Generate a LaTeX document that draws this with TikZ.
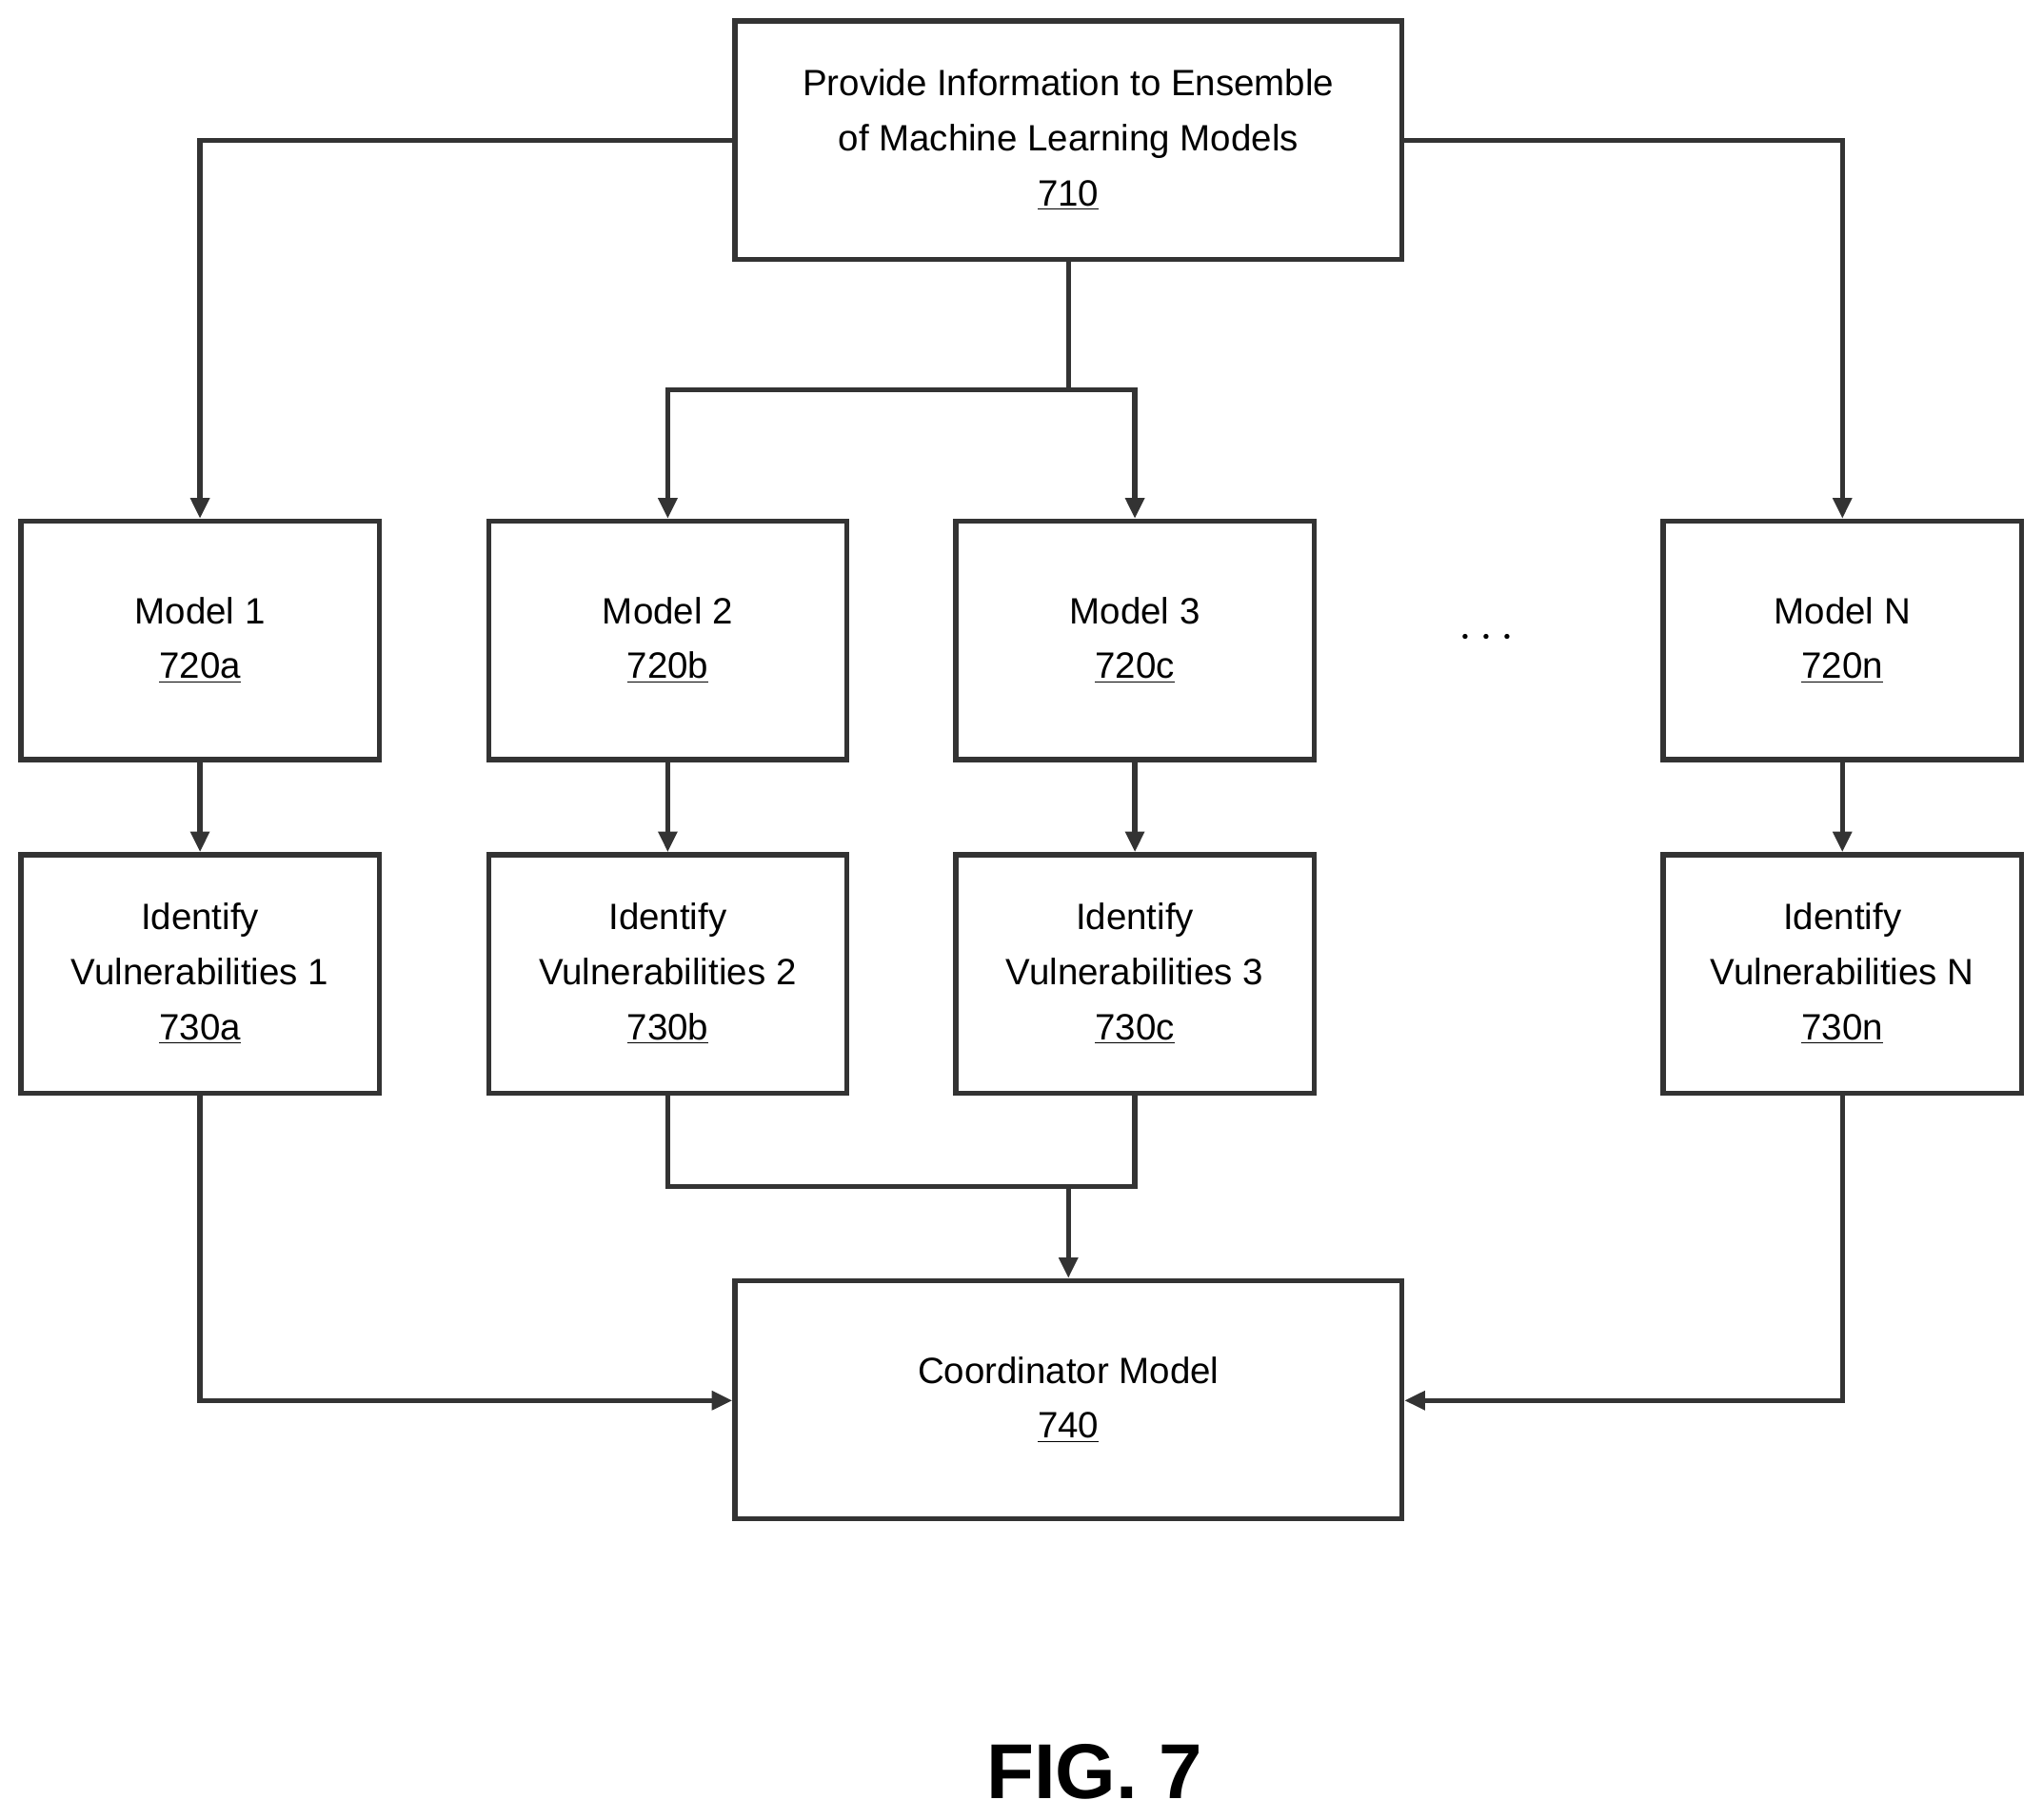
\documentclass[tikz,border=0pt]{standalone}
\usepackage{fontspec}
\setmainfont{Liberation Sans}
\usetikzlibrary{arrows.meta}
\begin{document}
\begin{tikzpicture}[x=0.02cm,y=-0.02cm,
  box/.style={draw=black!80,line width=2.2pt,minimum width=5.5cm,minimum height=3.66cm,align=center,font=\fontsize{16}{24}\selectfont,inner sep=0pt},
  wide/.style={box,minimum width=10.24cm},
  arr/.style={draw=black!80,line width=2.2pt,-{Triangle[length=9pt,width=8pt]}},
  ln/.style={draw=black!80,line width=2.2pt}]
\useasboundingbox (0,0) rectangle (1568,1397);
\node[wide] (p) at (820,107.5) {Provide Information to Ensemble\\of Machine Learning Models\\\underline{710}};
\node[box] (m1) at (153.5,491.5) {Model 1\\\underline{720a}};
\node[box] (m2) at (512.5,491.5) {Model 2\\\underline{720b}};
\node[box] (m3) at (871,491.5) {Model 3\\\underline{720c}};
\node[box] (mn) at (1414,491.5) {Model N\\\underline{720n}};
\node[box] (v1) at (153.5,747.5) {Identify\\Vulnerabilities 1\\\underline{730a}};
\node[box] (v2) at (512.5,747.5) {Identify\\Vulnerabilities 2\\\underline{730b}};
\node[box] (v3) at (871,747.5) {Identify\\Vulnerabilities 3\\\underline{730c}};
\node[box] (vn) at (1414,747.5) {Identify\\Vulnerabilities N\\\underline{730n}};
\node[wide] (c) at (820,1074.5) {Coordinator Model\\\underline{740}};
\node[font=\fontsize{20}{20}\selectfont] (dots) at (1141,490) {$\cdots$};
\node[font=\bfseries\fontsize{34}{34}\selectfont] (fig) at (840,1360) {FIG. 7};
\coordinate (t) at (820,299);
\coordinate (b) at (820,911);
\draw[arr] (p.west |- 0,108) -| (m1.north);
\draw[arr] (p.east |- 0,108) -| (mn.north);
\draw[ln] (p.south) -- (t);
\draw[arr] (t) -| (m2.north);
\draw[arr] (t) -| (m3.north);
\draw[arr] (m1) -- (v1);
\draw[arr] (m2) -- (v2);
\draw[arr] (m3) -- (v3);
\draw[arr] (mn) -- (vn);
\draw[ln] (v2.south) |- (b) -| (v3.south);
\draw[arr] (b) -- (c.north);
\draw[arr] (v1.south) |- (c.west |- 0,1075);
\draw[arr] (vn.south) |- (c.east |- 0,1075);
\end{tikzpicture}
\end{document}
